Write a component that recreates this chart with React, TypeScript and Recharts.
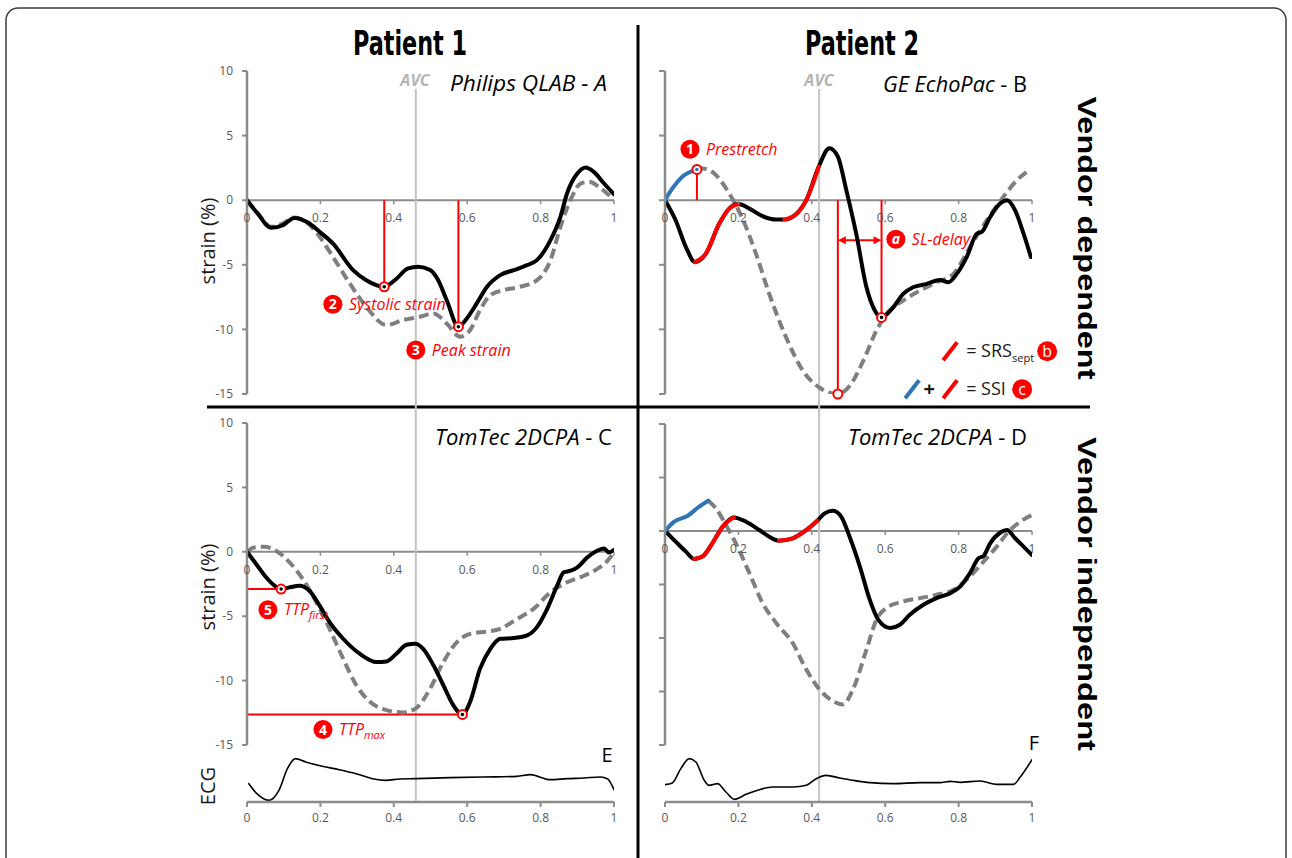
import React from 'react';
import { LineChart, Line, XAxis, YAxis, ReferenceLine, ReferenceDot } from 'recharts';

type Pt = [number, number];

// shared axes
const xTicks = [0, 0.2, 0.4, 0.6, 0.8, 1];
const strainTicks = [-15, -10, -5, 0, 5, 10];
const strainTicksWide = [-20, -15, -10, -5, 0, 5, 10];

// aortic valve closure, fraction of cycle
const avcPatient1 = 0.46;
const avcPatient2 = 0.42;

// A - Philips QLAB, patient 1
const aSolid: Pt[] = [[0, 0], [0.029, -1.03], [0.066, -2.14], [0.098, -1.93], [0.129, -1.37], [0.166, -1.73], [0.198, -2.45], [0.234, -3.35], [0.289, -5.41], [0.325, -6.19], [0.374, -6.7], [0.403, -6.19], [0.439, -5.28], [0.467, -5.15], [0.499, -5.41], [0.521, -6.19], [0.544, -7.73], [0.576, -9.79], [0.599, -9.15], [0.626, -7.99], [0.654, -6.7], [0.69, -5.8], [0.727, -5.41], [0.763, -5.03], [0.79, -4.64], [0.827, -3.09], [0.854, -1.29], [0.872, 0.52], [0.9, 2.06], [0.923, 2.53], [0.945, 2.19], [0.973, 1.29], [1, 0.46]];
const aDashed: Pt[] = [[0, 0], [0.029, -1], [0.066, -2.06], [0.098, -1.8], [0.129, -1.34], [0.161, -1.68], [0.198, -2.83], [0.234, -4.38], [0.28, -6.44], [0.325, -8.25], [0.38, -9.66], [0.425, -9.28], [0.471, -9.02], [0.508, -8.76], [0.544, -9.54], [0.581, -10.57], [0.608, -10.05], [0.635, -8.5], [0.663, -7.35], [0.699, -6.96], [0.745, -6.7], [0.79, -6.19], [0.827, -4.64], [0.854, -2.06], [0.881, 0], [0.909, 1.29], [0.932, 1.42], [0.959, 1.03], [1, 0]];
const aSystolic: Pt = [0.374, -6.7];
const aPeak: Pt = [0.576, -9.79];

// B - GE EchoPac, patient 2
const bSolid: Pt[] = [[0, 0], [0.029, -1.55], [0.057, -3.63], [0.082, -4.79], [0.111, -4.15], [0.148, -1.81], [0.175, -0.65], [0.2, -0.3], [0.23, -0.65], [0.266, -1.24], [0.303, -1.5], [0.325, -1.5], [0.357, -1.09], [0.385, 0], [0.419, 2.6], [0.448, 4.02], [0.471, 3.37], [0.494, 0.78], [0.521, -2.59], [0.549, -6.74], [0.572, -8.55], [0.59, -9.07], [0.622, -8.29], [0.649, -7.25], [0.676, -6.74], [0.713, -6.48], [0.749, -6.17], [0.772, -6.35], [0.795, -5.7], [0.822, -4.4], [0.85, -2.59], [0.863, -2.46], [0.886, -1.3], [0.913, -0.26], [0.932, 0], [0.954, -0.78], [0.977, -2.59], [0.997, -4.4]];
const bPrestretch: Pt[] = [[0, 0], [0.02, 0.91], [0.047, 1.81], [0.087, 2.38]];
const bDashed: Pt[] = [[0.087, 2.38], [0.102, 2.46], [0.139, 1.94], [0.175, 0.52], [0.211, -1.42], [0.248, -4.15], [0.284, -7.25], [0.33, -10.62], [0.376, -13.21], [0.421, -14.51], [0.471, -15], [0.503, -14.38], [0.54, -12.44], [0.576, -10.1], [0.603, -8.81], [0.649, -7.77], [0.695, -6.99], [0.74, -6.35], [0.786, -5.7], [0.831, -3.63], [0.877, -1.55], [0.922, 0.26], [0.959, 1.55], [0.986, 2.2]];
const bRedRanges: [number, number][] = [[3, 8], [11, 15]];
const bPeakSolid: Pt = [0.59, -9.07];
const bPeakDashed: Pt = [0.471, -15];
const bDelayY = -3.1;

// C - TomTec 2DCPA, patient 1
const cSolid: Pt[] = [[0, 0], [0.025, -0.95], [0.052, -1.98], [0.075, -2.63], [0.093, -2.89], [0.116, -2.76], [0.143, -2.63], [0.17, -3.02], [0.198, -4.18], [0.225, -5.46], [0.262, -6.75], [0.307, -7.91], [0.353, -8.56], [0.38, -8.51], [0.407, -7.91], [0.435, -7.22], [0.458, -7.14], [0.48, -7.53], [0.508, -8.81], [0.535, -10.36], [0.562, -11.91], [0.587, -12.63], [0.608, -11.65], [0.635, -9.07], [0.663, -7.53], [0.69, -6.75], [0.727, -6.7], [0.763, -6.49], [0.79, -5.85], [0.818, -4.43], [0.845, -2.63], [0.863, -1.6], [0.882, -1.47], [0.9, -1.21], [0.927, -0.44], [0.954, 0.08], [0.973, 0.26], [0.986, -0.05], [1, 0.15]];
const cDashed: Pt[] = [[0, 0], [0.02, 0.34], [0.047, 0.39], [0.079, 0.08], [0.116, -0.82], [0.152, -2.11], [0.189, -3.92], [0.225, -5.98], [0.262, -8.3], [0.298, -10.36], [0.335, -11.65], [0.38, -12.29], [0.426, -12.47], [0.462, -12.11], [0.499, -10.62], [0.535, -8.56], [0.572, -7.01], [0.608, -6.37], [0.654, -6.19], [0.69, -5.98], [0.736, -5.21], [0.781, -4.43], [0.827, -3.14], [0.872, -2.37], [0.918, -1.86], [0.954, -1.34], [0.982, -0.7], [1, -0.05]];
const cFirstPeak: Pt = [0.093, -2.89];
const cMaxPeak: Pt = [0.587, -12.63];

// D - TomTec 2DCPA, patient 2
const dSolid: Pt[] = [[0, 0], [0.029, -0.99], [0.057, -1.93], [0.079, -2.61], [0.102, -2.39], [0.129, -1.15], [0.157, 0.4], [0.187, 1.27], [0.221, 0.87], [0.257, 0.09], [0.284, -0.53], [0.31, -0.9], [0.348, -0.68], [0.385, 0.09], [0.415, 0.96], [0.435, 1.65], [0.458, 1.89], [0.48, 1.34], [0.503, -0.53], [0.531, -3.32], [0.558, -6.43], [0.581, -8.29], [0.613, -9.07], [0.64, -8.76], [0.667, -7.83], [0.704, -6.89], [0.74, -6.27], [0.777, -5.81], [0.804, -5.19], [0.831, -3.94], [0.854, -2.55], [0.868, -2.33], [0.886, -1.15], [0.913, -0.16], [0.932, 0.09], [0.954, -0.68], [0.977, -1.46], [1, -2.24]];
const dPrestretch: Pt[] = [[0, 0], [0.025, 0.87], [0.061, 1.4], [0.093, 2.27], [0.118, 2.83]];
const dDashed: Pt[] = [[0.118, 2.83], [0.139, 2.11], [0.166, 0.56], [0.193, -1.15], [0.23, -3.94], [0.266, -6.74], [0.303, -8.6], [0.348, -10.47], [0.385, -12.95], [0.421, -14.81], [0.458, -15.9], [0.485, -16.21], [0.512, -14.81], [0.549, -11.09], [0.576, -8.29], [0.603, -7.2], [0.649, -6.58], [0.695, -6.27], [0.74, -5.96], [0.786, -5.5], [0.831, -4.25], [0.868, -2.86], [0.904, -1.46], [0.936, -0.06], [0.968, 0.87], [1, 1.49]];
const dRedRanges: [number, number][] = [[3, 8], [11, 15]];

// E / F - ECG traces (arbitrary units)
const ecgE: Pt[] = [[0.005, 5.5], [0.027, 2.5], [0.059, 0.5], [0.087, 3.5], [0.11, 10], [0.132, 13], [0.16, 12], [0.205, 10.7], [0.251, 9.7], [0.297, 8.5], [0.342, 7], [0.379, 6.5], [0.416, 6.9], [0.461, 7], [0.553, 7.3], [0.644, 7.5], [0.735, 7.7], [0.772, 8.2], [0.826, 6.7], [0.872, 7], [0.918, 7.2], [0.963, 7.5], [0.982, 7], [1, 3.7]];
const ecgF: Pt[] = [[0, 5.2], [0.02, 5.7], [0.043, 10], [0.066, 13], [0.084, 12], [0.107, 6.5], [0.12, 5], [0.143, 5.5], [0.166, 3], [0.189, 0.8], [0.221, 2.3], [0.257, 3.7], [0.294, 4.5], [0.348, 4.5], [0.385, 5], [0.412, 7], [0.439, 8], [0.476, 7.2], [0.512, 6.5], [0.558, 5.8], [0.622, 5.5], [0.695, 5.8], [0.749, 5.8], [0.777, 6.2], [0.804, 5.9], [0.859, 6.3], [0.904, 5.3], [0.95, 5.3], [0.968, 7.5], [1, 12.7]];

const AXIS = '#8c8c8c';
const TICK_TEXT = '#595959';
const RED = '#ff0000';
const BLUE = '#2e75b6';
const DASH_GRAY = '#7f7f7f';
const AVC_GRAY = '#c3c3c3';
const FONT = "'Open Sans', 'Noto Sans', 'DejaVu Sans', sans-serif";

const rows = (pts: Pt[]) => pts.map(([x, y]) => ({ x, y }));

const tickShape = (label: string) => (p: any) => (
  <g>
    <line x1={p.cx} y1={p.cy} x2={p.cx} y2={p.cy + 4} stroke={AXIS} strokeWidth={1.5} />
    <text x={p.cx} y={p.cy + 22} textAnchor="middle" fontSize={12} fill={TICK_TEXT} fontFamily={FONT}>{label}</text>
  </g>
);

const zeroAxis = () => [
  <ReferenceLine key="zero" y={0} stroke={AXIS} strokeWidth={2} />,
  ...xTicks.map((t) => <ReferenceDot key={`tick${t}`} x={t} y={0} r={0} shape={tickShape(String(t))} />),
];

// unlabeled y ticks (panels B and D)
const yMarkShape = (p: any) => (
  <line x1={p.cx - 6} y1={p.cy} x2={p.cx} y2={p.cy} stroke={AXIS} strokeWidth={2} />
);
const yMarks = (ticks: number[]) =>
  ticks.map((t) => <ReferenceDot key={`ym${t}`} x={0} y={t} r={0} shape={yMarkShape} />);

const avcLine = (x: number, y1: number, y2: number) => (
  <ReferenceLine key="avc" segment={[{ x, y: y1 }, { x, y: y2 }]} ifOverflow="visible" stroke={AVC_GRAY} strokeWidth={2} />
);

const redSeg = (key: string, a: Pt, b: Pt) => (
  <ReferenceLine key={key} segment={[{ x: a[0], y: a[1] }, { x: b[0], y: b[1] }]} stroke={RED} strokeWidth={2} />
);

const series = (key: string, pts: Pt[], color: string, dashed = false, width = 4) => (
  <Line
    key={key}
    data={rows(pts)}
    dataKey="y"
    type="monotone"
    stroke={color}
    strokeWidth={width}
    strokeDasharray={dashed ? '10 5' : undefined}
    strokeLinecap={dashed ? 'butt' : 'round'}
    dot={false}
    activeDot={false}
    isAnimationActive={false}
  />
);

const markerShape = (core: string) => (p: any) => (
  <g>
    <circle cx={p.cx} cy={p.cy} r={4.5} fill="#fff" stroke={RED} strokeWidth={2} />
    <circle cx={p.cx} cy={p.cy} r={1.8} fill={core} />
  </g>
);
const marker = (key: string, pt: Pt, core = '#000') => (
  <ReferenceDot key={key} x={pt[0]} y={pt[1]} r={4} shape={markerShape(core)} />
);

const badgeShape = (mark: string, text: string, sub?: string, markItalic = false) => (p: any) => (
  <g fontFamily={FONT}>
    <circle cx={p.cx} cy={p.cy} r={9.5} fill={RED} />
    <text x={p.cx} y={p.cy + 5} textAnchor="middle" fontSize={14} fontWeight={700} fill="#fff" fontStyle={markItalic ? 'italic' : 'normal'}>{mark}</text>
    <text x={p.cx + 16} y={p.cy + 5.5} fontSize={16} fontStyle="italic" fill={RED}>
      {text}
      {sub ? <tspan fontSize={11} dy={4}>{sub}</tspan> : null}
    </text>
  </g>
);
const badge = (key: string, x: number, y: number, mark: string, text: string, sub?: string, markItalic = false) => (
  <ReferenceDot key={key} x={x} y={y} r={9} shape={badgeShape(mark, text, sub, markItalic)} />
);

const arrowShape = (p: any) => (
  <g>
    <line x1={p.x1 + 4} y1={p.y1} x2={p.x2 - 4} y2={p.y2} stroke={RED} strokeWidth={2} />
    <polygon points={`${p.x1},${p.y1} ${p.x1 + 8},${p.y1 - 4} ${p.x1 + 8},${p.y1 + 4}`} fill={RED} />
    <polygon points={`${p.x2},${p.y2} ${p.x2 - 8},${p.y2 - 4} ${p.x2 - 8},${p.y2 + 4}`} fill={RED} />
  </g>
);

const slash = (cx: number, cy: number, color: string) => (
  <line x1={cx - 7} y1={cy + 9} x2={cx + 7} y2={cy - 9} stroke={color} strokeWidth={4} />
);

const legendSrs = (p: any) => (
  <g fontFamily={FONT}>
    {slash(p.cx, p.cy, RED)}
    <text x={p.cx + 16} y={p.cy + 6} fontSize={18} fill="#1a1a1a">
      = SRS<tspan fontSize={11} dy={5}>sept</tspan>
    </text>
    <circle cx={p.cx + 97} cy={p.cy} r={10} fill={RED} />
    <text x={p.cx + 97} y={p.cy + 5.5} textAnchor="middle" fontSize={16} fill="#fff">b</text>
  </g>
);

const legendSsi = (p: any) => (
  <g fontFamily={FONT}>
    {slash(p.cx - 38, p.cy, BLUE)}
    <text x={p.cx - 21} y={p.cy + 7} textAnchor="middle" fontSize={20} fontWeight={700} fill="#1a1a1a">+</text>
    {slash(p.cx, p.cy, RED)}
    <text x={p.cx + 16} y={p.cy + 6} fontSize={18} fill="#1a1a1a">= SSI</text>
    <circle cx={p.cx + 72} cy={p.cy} r={10} fill={RED} />
    <text x={p.cx + 72} y={p.cy + 5.5} textAnchor="middle" fontSize={16} fill="#fff">c</text>
  </g>
);

const yAxisProps = (labels: boolean) => ({
  axisLine: { stroke: AXIS, strokeWidth: 2.5 },
  tickLine: labels ? { stroke: AXIS, strokeWidth: 2 } : false,
  tickSize: 5,
  tickMargin: 9,
  interval: 0 as const,
  tick: labels ? { fill: TICK_TEXT, fontSize: 12, fontFamily: FONT } : false,
});

const redParts = (pts: Pt[], ranges: [number, number][], prefix: string) =>
  ranges.map(([a, b], i) => series(`${prefix}${i}`, pts.slice(a, b), RED));

function EcgPanel({ left, data, avc }: { left: number; data: Pt[]; avc: number }) {
  const isLeft = left < 600;
  return (
    <div style={{ position: 'absolute', left, top: 752 }}>
      <LineChart width={isLeft ? 430 : 410} height={80} margin={{ top: 0, right: isLeft ? 16 : 18, bottom: 0, left: isLeft ? 47 : 25 }}>
        <XAxis
          type="number"
          dataKey="x"
          domain={[0, 1]}
          allowDataOverflow
          ticks={xTicks}
          interval={0}
          height={30}
          axisLine={{ stroke: AXIS, strokeWidth: 2.5 }}
          tickLine={{ stroke: AXIS, strokeWidth: 2 }}
          tickSize={5}
          tickMargin={6}
          tick={{ fill: TICK_TEXT, fontSize: 12, fontFamily: FONT }}
        />
        <YAxis type="number" domain={[0, 15]} allowDataOverflow hide />
        {avcLine(avc, 20, 0)}
        {series('ecg', data, '#000', false, 1.6)}
      </LineChart>
    </div>
  );
}

export default function App() {
  return (
    <div style={{ position: 'absolute', left: 0, top: 0, width: 1292, height: 858, background: '#fff', overflow: 'hidden' }}>
      <svg width={1292} height={858} style={{ position: 'absolute', left: 0, top: 0 }}>
        <rect x={6} y={8} width={1280} height={900} rx={12} fill="none" stroke="#3a3a3a" strokeWidth={1.5} />
        <line x1={638} y1={25} x2={638} y2={858} stroke="#000" strokeWidth={3} />
        <line x1={207} y1={407} x2={1090} y2={407} stroke="#000" strokeWidth={3} />
        <g fontFamily="'Liberation Sans Narrow', 'DejaVu Sans Condensed', 'Liberation Sans', sans-serif" fontWeight={700} fontSize={34} fill="#000">
          <text x={410} y={55} textAnchor="middle" textLength={114} lengthAdjust="spacingAndGlyphs">Patient 1</text>
          <text x={862} y={55} textAnchor="middle" textLength={114} lengthAdjust="spacingAndGlyphs">Patient 2</text>
        </g>
        <g fontFamily="'Liberation Sans', Arial, sans-serif" fontWeight={700} fontSize={26} fill="#000">
          <text transform="translate(1078,238) rotate(90)" textAnchor="middle" textLength={283} lengthAdjust="spacingAndGlyphs">Vendor dependent</text>
          <text transform="translate(1078,594) rotate(90)" textAnchor="middle" textLength={314} lengthAdjust="spacingAndGlyphs">Vendor independent</text>
        </g>
        <g fontFamily={FONT} fontSize={21} fill="#000">
          <text x={607} y={91} textAnchor="end" fontStyle="italic" textLength={157} lengthAdjust="spacingAndGlyphs">Philips QLAB - A</text>
          <text x={1027} y={92} textAnchor="end" textLength={144} lengthAdjust="spacingAndGlyphs">
            <tspan fontStyle="italic">GE EchoPac</tspan> - B
          </text>
          <text x={612} y={445} textAnchor="end" textLength={177} lengthAdjust="spacingAndGlyphs">
            <tspan fontStyle="italic">TomTec 2DCPA</tspan> - C
          </text>
          <text x={1027} y={445} textAnchor="end" textLength={179} lengthAdjust="spacingAndGlyphs">
            <tspan fontStyle="italic">TomTec 2DCPA</tspan> - D
          </text>
        </g>
        <g fontFamily={FONT} fontSize={16} fontWeight={700} fontStyle="italic" fill="#b4b4b4" textAnchor="middle">
          <text x={415} y={86}>AVC</text>
          <text x={819} y={86}>AVC</text>
        </g>
        <g fontFamily={FONT} fontSize={20} fill="#1a1a1a">
          <text transform="translate(215,241) rotate(-90)" textAnchor="middle">strain (%)</text>
          <text transform="translate(215,587) rotate(-90)" textAnchor="middle">strain (%)</text>
          <text transform="translate(215,786) rotate(-90)" textAnchor="middle">ECG</text>
        </g>
        <g fontFamily={FONT} fontSize={20} fill="#000" textAnchor="middle">
          <text x={607} y={762}>E</text>
          <text x={1034} y={750}>F</text>
        </g>
      </svg>

      {/* A */}
      <div style={{ position: 'absolute', left: 200, top: 60 }}>
        <LineChart width={430} height={350} margin={{ top: 11, right: 16, bottom: 16, left: 7 }}>
          <XAxis type="number" dataKey="x" domain={[0, 1]} allowDataOverflow hide />
          <YAxis type="number" domain={[-15, 10]} ticks={strainTicks} allowDataOverflow width={40} {...yAxisProps(true)} />
          {zeroAxis()}
          {avcLine(avcPatient1, 8.6, -17)}
          {redSeg('vA1', [aSystolic[0], 0], aSystolic)}
          {redSeg('vA2', [aPeak[0], 0], aPeak)}
          {series('aDash', aDashed, DASH_GRAY, true)}
          {series('aSolid', aSolid, '#000')}
          {marker('mA1', aSystolic)}
          {marker('mA2', aPeak)}
          {badge('bA1', 0.234, -8.05, '2', 'Systolic strain')}
          {badge('bA2', 0.46, -11.6, '3', 'Peak strain')}
        </LineChart>
      </div>

      {/* B */}
      <div style={{ position: 'absolute', left: 640, top: 60 }}>
        <LineChart width={430} height={350} margin={{ top: 11, right: 38, bottom: 16, left: 5 }}>
          <XAxis type="number" dataKey="x" domain={[0, 1]} allowDataOverflow hide />
          <YAxis type="number" domain={[-15, 10]} ticks={strainTicks} allowDataOverflow width={20} {...yAxisProps(false)} />
          {yMarks(strainTicks)}
          {zeroAxis()}
          {avcLine(avcPatient2, 8.6, -17)}
          {redSeg('vB0', [bPrestretch[3][0], 0], bPrestretch[3])}
          {redSeg('vB1', [bPeakDashed[0], 0], bPeakDashed)}
          {redSeg('vB2', [bPeakSolid[0], 0], bPeakSolid)}
          <ReferenceLine
            key="delay"
            segment={[{ x: bPeakDashed[0], y: bDelayY }, { x: bPeakSolid[0], y: bDelayY }]}
            shape={arrowShape}
          />
          {series('bDash', bDashed, DASH_GRAY, true)}
          {series('bSolid', bSolid, '#000')}
          {redParts(bSolid, bRedRanges, 'bRed')}
          {series('bBlue', bPrestretch, BLUE)}
          {marker('mB0', bPrestretch[3], BLUE)}
          {marker('mB1', bPeakDashed, '#fff')}
          {marker('mB2', bPeakSolid)}
          {badge('bB1', 0.068, 3.95, '1', 'Prestretch')}
          {badge('bB2', 0.629, -3.02, 'a', 'SL-delay', undefined, true)}
          <ReferenceDot key="lg1" x={0.777} y={-11.69} r={9} shape={legendSrs} />
          <ReferenceDot key="lg2" x={0.777} y={-14.63} r={9} shape={legendSsi} />
        </LineChart>
      </div>

      {/* C */}
      <div style={{ position: 'absolute', left: 200, top: 410 }}>
        <LineChart width={430} height={342} margin={{ top: 13, right: 16, bottom: 7, left: 7 }}>
          <XAxis type="number" dataKey="x" domain={[0, 1]} allowDataOverflow hide />
          <YAxis type="number" domain={[-15, 10]} ticks={strainTicks} allowDataOverflow width={40} {...yAxisProps(true)} />
          {zeroAxis()}
          {avcLine(avcPatient1, 12, -17)}
          {redSeg('hC1', [0, cFirstPeak[1]], cFirstPeak)}
          {redSeg('hC2', [0, cMaxPeak[1]], cMaxPeak)}
          {series('cDash', cDashed, DASH_GRAY, true)}
          {series('cSolid', cSolid, '#000')}
          {marker('mC1', cFirstPeak)}
          {marker('mC2', cMaxPeak)}
          {badge('bC1', 0.057, -4.5, '5', 'TTP', 'first')}
          {badge('bC2', 0.207, -13.8, '4', 'TTP', 'max')}
        </LineChart>
      </div>

      {/* D */}
      <div style={{ position: 'absolute', left: 640, top: 410 }}>
        <LineChart width={410} height={342} margin={{ top: 14, right: 18, bottom: 7, left: 5 }}>
          <XAxis type="number" dataKey="x" domain={[0, 1]} allowDataOverflow hide />
          <YAxis type="number" domain={[-20, 10]} ticks={strainTicksWide} allowDataOverflow width={20} {...yAxisProps(false)} />
          {yMarks(strainTicksWide)}
          {zeroAxis()}
          {avcLine(avcPatient2, 13, -22)}
          {series('dDash', dDashed, DASH_GRAY, true)}
          {series('dSolid', dSolid, '#000')}
          {redParts(dSolid, dRedRanges, 'dRed')}
          {series('dBlue', dPrestretch, BLUE)}
        </LineChart>
      </div>

      <EcgPanel left={200} data={ecgE} avc={avcPatient1} />
      <EcgPanel left={640} data={ecgF} avc={avcPatient2} />
    </div>
  );
}
